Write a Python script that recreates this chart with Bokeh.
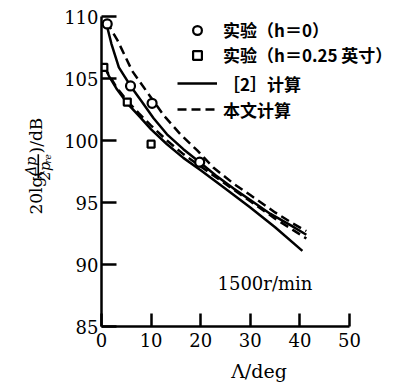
from bokeh.plotting import figure
from bokeh.layouts import row
from bokeh.models import Legend, LegendItem, Label, BoxAnnotation, FixedTicker, Range1d
from bokeh.embed import file_html
from bokeh.resources import INLINE

# ---- data ----
x_ticks = [0, 10, 20, 30, 40, 50]
y_ticks = [85, 90, 95, 100, 105, 110]

# experiment, h = 0 (circles)
exp_h0_x = [1.15, 5.85, 10.2, 19.8]
exp_h0_y = [109.4, 104.4, 103.0, 98.25]
# experiment, h = 0.25 inch (squares)
exp_h25_x = [0.47, 5.2, 10.0]
exp_h25_y = [105.9, 103.1, 99.7]

# [2] calculation, h = 0 (upper solid)
ref_h0_x = [1.0, 2.0, 3.5, 5.85, 8.0, 10.5, 13.2, 16.5, 19.8, 23.0, 26.7, 30.0, 34.0, 38.0, 41.3]
ref_h0_y = [109.4, 107.8, 105.9, 104.4, 103.2, 101.8, 100.5, 99.3, 98.25, 97.2, 96.1, 95.2, 94.1, 93.2, 92.4]
# [2] calculation, h = 0.25 inch (lower solid)
ref_h25_x = [0.3, 1.5, 3.0, 5.2, 7.5, 10.0, 13.2, 16.5, 20.0, 25.0, 30.0, 35.0, 40.5]
ref_h25_y = [106.2, 105.2, 104.2, 103.0, 102.0, 100.9, 99.7, 98.6, 97.6, 96.1, 94.6, 93.0, 91.1]

# present calculation, h = 0 (upper dashed)
new_h0_x = [1.0, 3.2, 6.2, 9.2, 12.6, 15.9, 19.3, 22.6, 26.7, 30.0, 35.0, 38.6, 41.3]
new_h0_y = [109.6, 108.1, 105.6, 103.9, 102.0, 100.5, 99.2, 97.8, 96.5, 95.6, 94.2, 93.3, 92.7]
# present calculation, h = 0.25 inch (lower dashed)
new_h25_x = [0.5, 1.5, 3.0, 5.2, 7.5, 10.0, 13.2, 16.5, 20.0, 25.0, 30.0, 35.0, 41.3]
new_h25_y = [106.0, 105.3, 104.3, 103.2, 102.2, 101.2, 100.0, 98.9, 97.9, 96.5, 95.1, 93.7, 92.1]

legend_labels = ["实验（h＝0）", "实验（h＝0.25 英寸）", "［2］计算", "本文计算"]
speed_text = "1500r/min"
x_label = "Λ/deg"

SERIF = "DejaVu Serif"
CJK = "Noto Sans CJK SC"
LEFT_W = 60
H = 385

# ---------- narrow left panel holding the y-axis title ----------
lp = figure(width=LEFT_W, height=H, x_range=Range1d(0, LEFT_W), y_range=Range1d(0, H),
            output_backend="svg", toolbar_location=None, min_border=0,
            x_axis_location=None, y_axis_location=None)
lp.xgrid.visible = False
lp.ygrid.visible = False
lp.outline_line_color = None
ylab = dict(angle=90, angle_units="deg", text_font=SERIF, text_color="black",
            text_baseline="middle")
lp.add_layout(Label(x=35, y=H - 246, text="20lg(", text_font_size="17px",
                    text_align="left", **ylab))
lp.add_layout(Label(x=30.5, y=H - 186, text="Δp", text_font_size="14px", text_align="center",
                    text_font_style="italic", **ylab))
lp.add_layout(Label(x=44, y=H - 192, text="2p", text_font_size="14px", text_align="center",
                    text_font_style="italic", **ylab))
lp.add_layout(Label(x=47.5, y=H - 177, text="re", text_font_size="9px", text_align="center",
                    text_font_style="italic", **ylab))
lp.add_layout(Label(x=35, y=H - 170, text=")/dB", text_font_size="17px",
                    text_align="left", **ylab))
lp.add_layout(BoxAnnotation(left=37, right=38.6, bottom=H - 201, top=H - 171,
                            fill_color="black", fill_alpha=1, line_alpha=0))

# ---------- main plot ----------
W = 416 - LEFT_W
frame_left = 101 - LEFT_W
px_per_deg = 248 / 50
x_end = (W - frame_left) / px_per_deg

p = figure(width=W, height=H, x_range=Range1d(0, x_end), y_range=Range1d(85, 110),
           output_backend="svg", toolbar_location=None,
           min_border_left=frame_left, min_border_right=0, min_border_top=16,
           min_border_bottom=59)
p.xgrid.visible = False
p.ygrid.visible = False
p.outline_line_color = None

for ax in (p.xaxis[0], p.yaxis[0]):
    ax.axis_line_width = 2.5
    ax.axis_line_color = "black"
    ax.major_tick_line_width = 2.5
    ax.major_tick_line_color = "black"
    ax.minor_tick_line_color = None
    ax.major_tick_out = 0
    ax.major_label_text_font = SERIF
    ax.major_label_text_font_size = "18px"
    ax.major_label_text_color = "black"
p.xaxis.bounds = (x_ticks[0], x_ticks[-1])
p.xaxis.major_tick_in = 13
p.yaxis.major_tick_in = 15
p.xaxis.ticker = FixedTicker(ticks=x_ticks)
p.yaxis.ticker = FixedTicker(ticks=y_ticks)
p.xaxis.major_label_standoff = 6
p.yaxis.major_label_standoff = 3
p.xaxis.axis_label = x_label
p.xaxis.axis_label_text_font = SERIF
p.xaxis.axis_label_text_font_size = "19px"
p.xaxis.axis_label_text_font_style = "normal"
p.xaxis.axis_label_text_color = "black"
p.xaxis.axis_label_standoff = 10

# curves
r_ref0 = p.line(ref_h0_x, ref_h0_y, line_width=2.5, line_color="black")
p.line(ref_h25_x, ref_h25_y, line_width=2.5, line_color="black")
r_new0 = p.line(new_h0_x, new_h0_y, line_width=2.5, line_color="black", line_dash="9 5")
p.line(new_h25_x, new_h25_y, line_width=2.5, line_color="black", line_dash="9 5")

# experimental points
r_c = p.scatter(exp_h0_x, exp_h0_y, marker="circle", size=9, fill_color="white",
                line_color="black", line_width=2.2)
r_s = p.scatter(exp_h25_x, exp_h25_y, marker="square", size=7, fill_color="white",
                line_color="black", line_width=2.2)

common = dict(glyph_width=40, spacing=0, padding=0, margin=0, label_standoff=6,
              label_width=185, border_line_color=None, background_fill_alpha=0,
              label_text_font=CJK, label_text_font_size="17px",
              label_text_font_style="bold", label_text_color="black")
leg1 = Legend(items=[LegendItem(label=legend_labels[0], renderers=[r_c]),
                     LegendItem(label=legend_labels[1], renderers=[r_s])],
              location=(76, 259), glyph_height=22, label_height=22, **common)
leg2 = Legend(items=[LegendItem(label=legend_labels[2], renderers=[r_ref0]),
                     LegendItem(label=legend_labels[3], renderers=[r_new0])],
              location=(76, 204), glyph_height=26, label_height=26, **common)
p.add_layout(leg1)
p.add_layout(leg2)

# speed annotation
p.add_layout(Label(x=116, y=43, x_units="screen", y_units="screen", text=speed_text,
                   text_font=SERIF, text_font_size="18px", text_baseline="middle",
                   text_align="left", text_color="black"))

layout = row(lp, p)
open("out.html", "w").write(file_html(layout, INLINE))
